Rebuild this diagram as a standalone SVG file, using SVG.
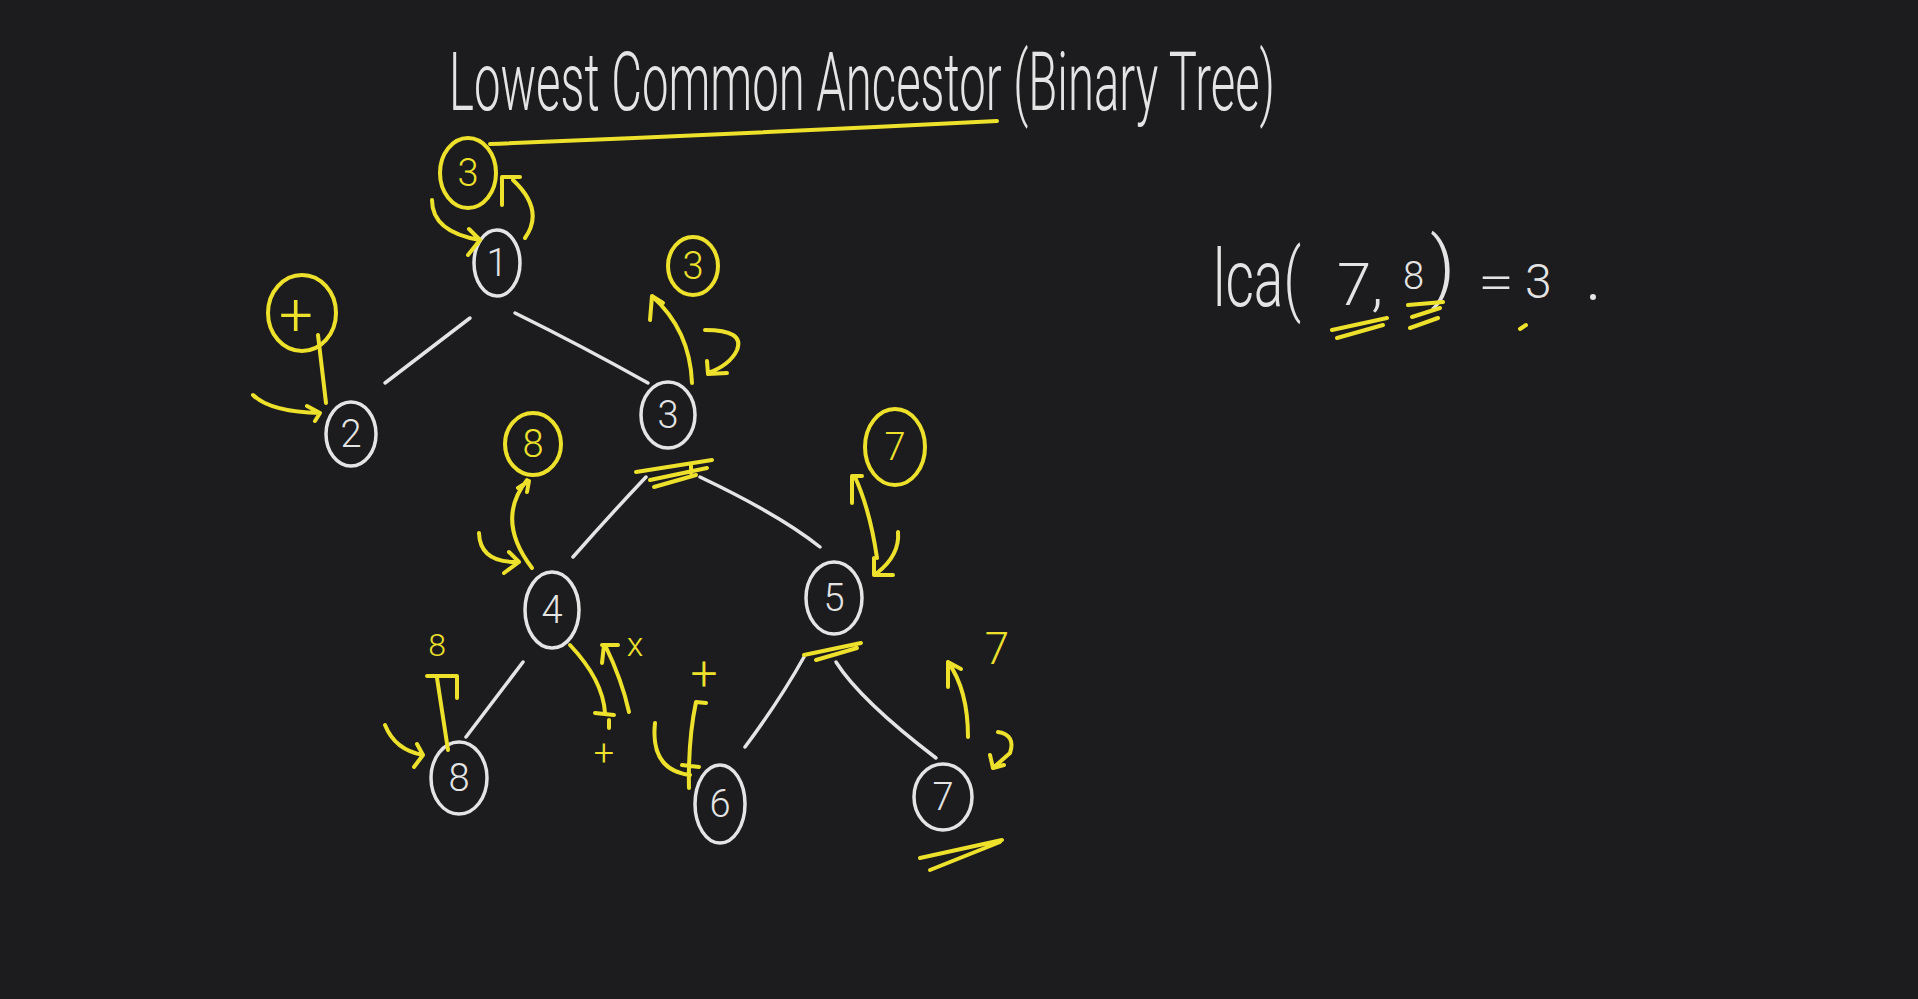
<svg xmlns="http://www.w3.org/2000/svg" width="1918" height="999" viewBox="0 0 1918 999">
<style>
.w{fill:none;stroke:#e4e4e4;stroke-width:3.5;stroke-linecap:round;stroke-linejoin:round}
.y{fill:none;stroke:#ede12b;stroke-width:4;stroke-linecap:round;stroke-linejoin:round}
.tw{fill:#e4e4e4;font-family:Roboto,"Liberation Sans",Arial,sans-serif;font-weight:300}
.ty{fill:#ede12b;font-family:Roboto,"Liberation Sans",Arial,sans-serif;font-weight:300}
.nl{font-size:38px;text-anchor:middle}
</style>
<rect width="1918" height="999" fill="#1c1c1e"/>
<g id="title">
<text class="tw" x="449" y="110" font-size="82" font-weight="100" textLength="826" lengthAdjust="spacingAndGlyphs">Lowest Common Ancestor (Binary Tree)</text>
<path class="y" d="M490 144 Q740 134 997 121"/>
</g>
<g id="connectors">
<path class="w" d="M470 318 L385 383"/>
<path class="w" d="M515 313 Q580 345 648 383"/>
<path class="w" d="M646 477 Q610 515 573 557"/>
<path class="w" d="M700 477 Q780 515 820 547"/>
<path class="w" d="M523 662 L466 737"/>
<path class="w" d="M804 657 Q780 700 745 747"/>
<path class="w" d="M836 662 Q860 700 936 758"/>
</g>
<g id="node-1"><ellipse class="w" cx="497" cy="263" rx="23" ry="33"/><text class="tw nl" x="497" y="276">1</text></g>
<g id="node-2"><ellipse class="w" cx="351" cy="434" rx="25" ry="32"/><text class="tw nl" x="351" y="447">2</text></g>
<g id="node-3"><ellipse class="w" cx="668" cy="415" rx="27" ry="33"/><text class="tw nl" x="668" y="428">3</text></g>
<g id="node-4"><ellipse class="w" cx="552" cy="610" rx="27" ry="38"/><text class="tw nl" x="552" y="623">4</text></g>
<g id="node-5"><ellipse class="w" cx="834" cy="598" rx="28" ry="36"/><text class="tw nl" x="834" y="611">5</text></g>
<g id="node-8"><ellipse class="w" cx="459" cy="778" rx="28" ry="36"/><text class="tw nl" x="459" y="791">8</text></g>
<g id="node-6"><ellipse class="w" cx="720" cy="804" rx="25" ry="39"/><text class="tw nl" x="720" y="817">6</text></g>
<g id="node-7"><ellipse class="w" cx="943" cy="797" rx="29" ry="33"/><text class="tw nl" x="943" y="810">7</text></g>
<g id="annotations">
<ellipse class="y" cx="468" cy="173" rx="28" ry="35"/><text class="ty nl" x="468" y="186">3</text>
<path class="y" d="M432 200 Q432 232 480 240 M469 229 L480 240 L468 255"/>
<path class="y" d="M525 238 Q545 210 513 180 M502 205 L502 177 L520 177"/>
<ellipse class="y" cx="302" cy="313" rx="34" ry="38"/><text class="ty" x="296" y="335" font-size="60" text-anchor="middle">+</text>
<path class="y" d="M318 335 L326 403"/>
<path class="y" d="M253 395 Q270 412 320 413 M307 406 L320 413 L315 421"/>
<ellipse class="y" cx="693" cy="266" rx="25" ry="29"/><text class="ty nl" x="693" y="279">3</text>
<path class="y" d="M692 383 Q690 330 652 296 M650 320 L652 296 L663 303"/>
<path class="y" d="M705 330 Q745 330 737 350 Q730 365 708 373 M707 361 L708 374 L727 373"/>
<path class="y" d="M636 472 L712 460 M650 480 L707 468 M654 487 L696 475 M691 464 L691 473"/>
<ellipse class="y" cx="533" cy="444" rx="28" ry="31"/><text class="ty nl" x="533" y="457">8</text>
<path class="y" d="M532 568 Q495 520 527 480 M518 488 L529 481 L527 492"/>
<path class="y" d="M479 533 Q480 563 518 562 M509 552 L519 562 L504 573"/>
<path class="y" d="M570 645 Q603 680 605 713 M595 713 L614 715 M609 720 L609 728"/>
<text class="ty" x="604" y="765" font-size="36" text-anchor="middle">+</text>
<path class="y" d="M629 712 Q622 680 605 645 M602 645 L618 645 M604 645 L602 663"/>
<text class="ty" x="635" y="656" font-size="34" text-anchor="middle">x</text>
<ellipse class="y" cx="895" cy="447" rx="30" ry="38"/><text class="ty nl" x="895" y="460">7</text>
<path class="y" d="M877 558 Q870 510 855 477 M852 503 L852 476 L862 476"/>
<path class="y" d="M898 532 Q900 555 877 573 M874 558 L874 575 L893 575"/>
<path class="y" d="M804 655 L861 643 M816 660 L857 648"/>
<text class="ty" x="437" y="656" font-size="32" text-anchor="middle">8</text>
<path class="y" d="M448 750 L437 678 M427 676 L457 676 L457 698"/>
<path class="y" d="M385 725 Q395 750 423 755 M417 744 L423 755 L414 767"/>
<text class="ty" x="704" y="690" font-size="48" text-anchor="middle">+</text>
<path class="y" d="M655 723 Q650 770 690 775 M689 788 Q688 740 696 702 L706 703 M682 765 L699 767"/>
<text class="ty" x="997" y="664" font-size="44" text-anchor="middle">7</text>
<path class="y" d="M968 737 Q968 690 948 662 M948 687 L948 662 L961 669"/>
<path class="y" d="M998 732 Q1016 735 1010 753 L993 768 M990 755 L993 768 L1004 765"/>
<path class="y" d="M920 858 L1002 840 M930 870 L1000 842"/>
</g>
<g id="lca">
<text class="tw" x="1213" y="306" font-size="80" textLength="88" lengthAdjust="spacingAndGlyphs">lca(</text>
<text class="tw" x="1337" y="305" font-size="60" textLength="46" lengthAdjust="spacingAndGlyphs">7,</text>
<text class="tw" x="1403" y="289" font-size="38">8</text>
<text class="tw" x="1430" y="293" font-size="78">)</text>
<text class="tw" x="1478" y="299" font-size="50" textLength="36" lengthAdjust="spacingAndGlyphs">=</text>
<text class="tw" x="1525" y="298" font-size="48">3</text>
<circle cx="1593" cy="297" r="3" fill="#e4e4e4"/>
<path class="y" d="M1332 330 L1387 318 M1337 338 L1383 325 M1408 305 L1443 302 M1412 317 L1440 308 M1410 328 L1438 318 M1520 329 L1526 325"/>
</g>
</svg>
